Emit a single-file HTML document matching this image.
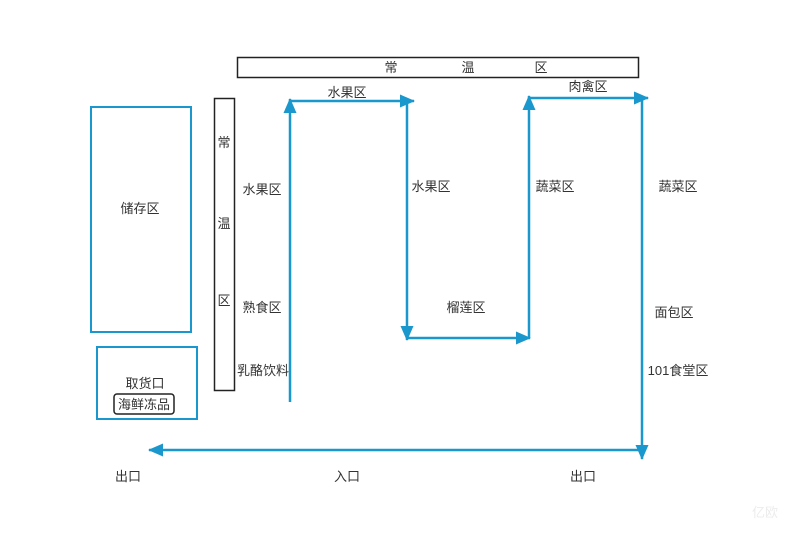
<!DOCTYPE html>
<html><head><meta charset="utf-8"><style>
html,body{margin:0;padding:0;background:#fff;}
svg text{font-family:"Liberation Sans","Noto Sans CJK SC",sans-serif;font-size:13px;fill:#333;}
</style></head><body>
<svg width="791" height="529" viewBox="0 0 791 529" xmlns="http://www.w3.org/2000/svg">
<defs>
<marker id="a" markerWidth="16" markerHeight="14" refX="14" refY="6.5" orient="auto" markerUnits="userSpaceOnUse">
<path d="M0,0 L15,6.5 L0,13 z" fill="#1a97cc"/>
</marker>
</defs>
<rect x="237.5" y="57.5" width="401" height="20" fill="none" stroke="#222" stroke-width="1.5"/>
<text x="391" y="72" text-anchor="middle">常</text>
<text x="468" y="72" text-anchor="middle">温</text>
<text x="541" y="72" text-anchor="middle">区</text>
<rect x="91" y="107" width="100" height="225" fill="none" stroke="#1a97cc" stroke-width="2"/>
<text x="140" y="213" text-anchor="middle">储存区</text>
<rect x="97" y="347" width="100" height="72" fill="none" stroke="#1a97cc" stroke-width="2"/>
<text x="145" y="388" text-anchor="middle">取货口</text>
<rect x="114" y="394" width="60" height="20" rx="3" fill="none" stroke="#222" stroke-width="1.5"/>
<text x="144" y="409" text-anchor="middle">海鲜冻品</text>
<rect x="214.5" y="98.5" width="20" height="292" fill="none" stroke="#222" stroke-width="1.5"/>
<text x="224" y="147" text-anchor="middle">常</text>
<text x="224" y="228" text-anchor="middle">温</text>
<text x="224" y="305" text-anchor="middle">区</text>
<g stroke="#1a97cc" stroke-width="2.5" fill="none">
<line x1="290" y1="402" x2="290" y2="99" marker-end="url(#a)"/>
<line x1="290" y1="101" x2="414" y2="101" marker-end="url(#a)"/>
<line x1="407" y1="101" x2="407" y2="340" marker-end="url(#a)"/>
<line x1="407" y1="338" x2="530" y2="338" marker-end="url(#a)"/>
<line x1="529" y1="338" x2="529" y2="96" marker-end="url(#a)"/>
<line x1="529" y1="98" x2="648" y2="98" marker-end="url(#a)"/>
<line x1="642" y1="98" x2="642" y2="459" marker-end="url(#a)"/>
<line x1="640" y1="450" x2="149" y2="450" marker-end="url(#a)"/>
</g>
<text x="347" y="97" text-anchor="middle">水果区</text>
<text x="262" y="194" text-anchor="middle">水果区</text>
<text x="262" y="312" text-anchor="middle">熟食区</text>
<text x="263" y="375" text-anchor="middle">乳酪饮料</text>
<text x="431" y="191" text-anchor="middle">水果区</text>
<text x="466" y="312" text-anchor="middle">榴莲区</text>
<text x="555" y="191" text-anchor="middle">蔬菜区</text>
<text x="588" y="91" text-anchor="middle">肉禽区</text>
<text x="678" y="191" text-anchor="middle">蔬菜区</text>
<text x="674" y="317" text-anchor="middle">面包区</text>
<text x="678" y="375" text-anchor="middle">101食堂区</text>
<text x="128" y="481" text-anchor="middle">出口</text>
<text x="347" y="481" text-anchor="middle">入口</text>
<text x="583" y="481" text-anchor="middle">出口</text>
<text x="765" y="517" text-anchor="middle" style="fill:#ececec;font-size:13px">亿欧</text>
</svg>
</body></html>
